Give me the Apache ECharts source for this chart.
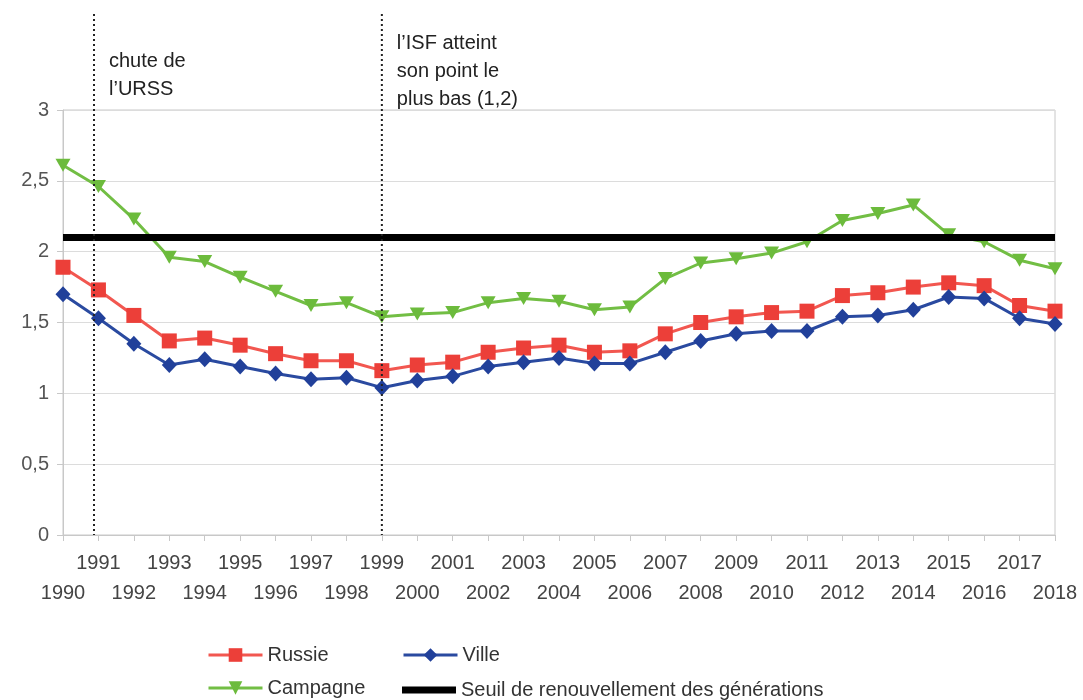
<!DOCTYPE html>
<html>
<head>
<meta charset="utf-8">
<script src="https://cdn.jsdelivr.net/npm/echarts@6/dist/echarts.min.js"></script>
<style>
  html, body { margin: 0; padding: 0; background: #fff; }
  #chart { width: 1083px; height: 700px; }
</style>
</head>
<body>
<div id="chart"></div>
<script>
// années 1990 - 2018
const years = [1990,1991,1992,1993,1994,1995,1996,1997,1998,1999,2000,2001,2002,2003,2004,2005,2006,2007,2008,2009,2010,2011,2012,2013,2014,2015,2016,2017,2018];
const russie   = [1.89,1.73,1.55,1.37,1.39,1.34,1.28,1.23,1.23,1.16,1.20,1.22,1.29,1.32,1.34,1.29,1.30,1.42,1.50,1.54,1.57,1.58,1.69,1.71,1.75,1.78,1.76,1.62,1.58];
const ville    = [1.70,1.53,1.35,1.20,1.24,1.19,1.14,1.10,1.11,1.04,1.09,1.12,1.19,1.22,1.25,1.21,1.21,1.29,1.37,1.42,1.44,1.44,1.54,1.55,1.59,1.68,1.67,1.53,1.49];
const campagne = [2.61,2.46,2.23,1.96,1.93,1.82,1.72,1.62,1.64,1.54,1.56,1.57,1.64,1.67,1.65,1.59,1.61,1.81,1.92,1.95,1.99,2.07,2.22,2.27,2.33,2.12,2.07,1.94,1.88];
const seuil = 2.1;
const yTicks = [0, 0.5, 1, 1.5, 2, 2.5, 3];

// événements marqués par les pointillés
const events = [
  { x: 1990.875, text: 'chute de\nl’URSS', top: 47 },
  { x: 1999, text: 'l’ISF atteint\nson point le\nplus bas (1,2)', top: 29 }
];

const font = '"Liberation Sans", Arial, sans-serif';
const pair = (arr) => years.map((y, i) => [y, arr[i]]);
const seuilName = 'Seuil de renouvellement des générations';

const chart = echarts.init(document.getElementById('chart'));

const legendBase = {
  itemWidth: 54,
  itemHeight: 17,
  lineStyle: { width: 3 },
  textStyle: { fontFamily: font, fontSize: 20, color: '#333', padding: [0, 0, 0, 0] }
};

// deux axes x superposés : années impaires en haut, paires en bas
const xBase = {
  type: 'value',
  min: years[0],
  max: years[years.length - 1],
  interval: 1,
  position: 'bottom',
  splitLine: { show: false }
};

const option = {
  animation: false,
  textStyle: { fontFamily: font },
  grid: { left: 63, right: 28, top: 110, bottom: 165, show: true, borderColor: '#c8c8c8', borderWidth: 1 },
  legend: [
    Object.assign({ left: 202, top: 640, data: ['Russie'] }, legendBase),
    Object.assign({ left: 397, top: 640, data: ['Ville'] }, legendBase),
    Object.assign({ left: 202, top: 673, data: ['Campagne'] }, legendBase),
    Object.assign({}, legendBase, { left: 397, top: 675, itemHeight: 7, data: [{ name: seuilName, icon: 'rect' }] })
  ],
  xAxis: [
    Object.assign({}, xBase, {
      axisLine: { lineStyle: { color: '#c8c8c8' } },
      axisTick: { show: true, length: 6, lineStyle: { color: '#c8c8c8' } },
      axisLabel: {
        color: '#444', fontSize: 20, margin: 18, hideOverlap: false,
        showMinLabel: true, showMaxLabel: true,
        formatter: v => (v % 2 ? String(v) : '')
      }
    }),
    Object.assign({}, xBase, {
      axisLine: { show: false },
      axisTick: { show: false },
      axisLabel: {
        color: '#444', fontSize: 20, margin: 48, hideOverlap: false,
        showMinLabel: true, showMaxLabel: true,
        formatter: v => (v % 2 ? '' : String(v))
      }
    })
  ],
  yAxis: {
    type: 'value',
    min: yTicks[0],
    max: yTicks[yTicks.length - 1],
    interval: 0.5,
    axisLine: { show: true, lineStyle: { color: '#c8c8c8' } },
    axisTick: { show: true, length: 6, lineStyle: { color: '#c8c8c8' } },
    splitLine: { lineStyle: { color: '#dcdcdc' } },
    axisLabel: {
      color: '#555',
      fontSize: 20,
      margin: 14,
      formatter: v => String(v).replace('.', ',')
    }
  },
  series: [
    {
      name: 'Russie', type: 'line', data: pair(russie),
      symbol: 'rect', symbolSize: 15,
      itemStyle: { color: '#ec3f39' },
      lineStyle: { color: '#f25750', width: 3 }
    },
    {
      name: 'Ville', type: 'line', data: pair(ville),
      symbol: 'diamond', symbolSize: [15, 16],
      itemStyle: { color: '#21409a' },
      lineStyle: { color: '#2a4aa0', width: 3 }
    },
    {
      name: 'Campagne', type: 'line', data: pair(campagne),
      symbol: 'triangle', symbolRotate: 180, symbolSize: [15, 13],
      itemStyle: { color: '#6cbb3c' },
      lineStyle: { color: '#72be44', width: 3 }
    },
    {
      name: seuilName, type: 'line',
      data: years.map(y => [y, seuil]),
      symbol: 'none', z: 5,
      itemStyle: { color: '#000' },
      lineStyle: { color: '#000', width: 7 }
    }
  ]
};

chart.setOption(option);

// pointillés verticaux et annotations
const yBottom = chart.convertToPixel({ yAxisIndex: 0 }, 0);
const graphics = [];
events.forEach(ev => {
  const px = chart.convertToPixel({ xAxisIndex: 0 }, ev.x);
  graphics.push({
    type: 'line', z: 10,
    shape: { x1: px, y1: 14, x2: px, y2: yBottom },
    style: { stroke: '#222', lineWidth: 2, lineDash: [2, 3] }
  });
  graphics.push({
    type: 'text', z: 10,
    x: px + 15, y: ev.top,
    style: { text: ev.text, font: '20px ' + font, lineHeight: 28, fill: '#222' }
  });
});
chart.setOption({ graphic: graphics });
</script>
</body>
</html>
